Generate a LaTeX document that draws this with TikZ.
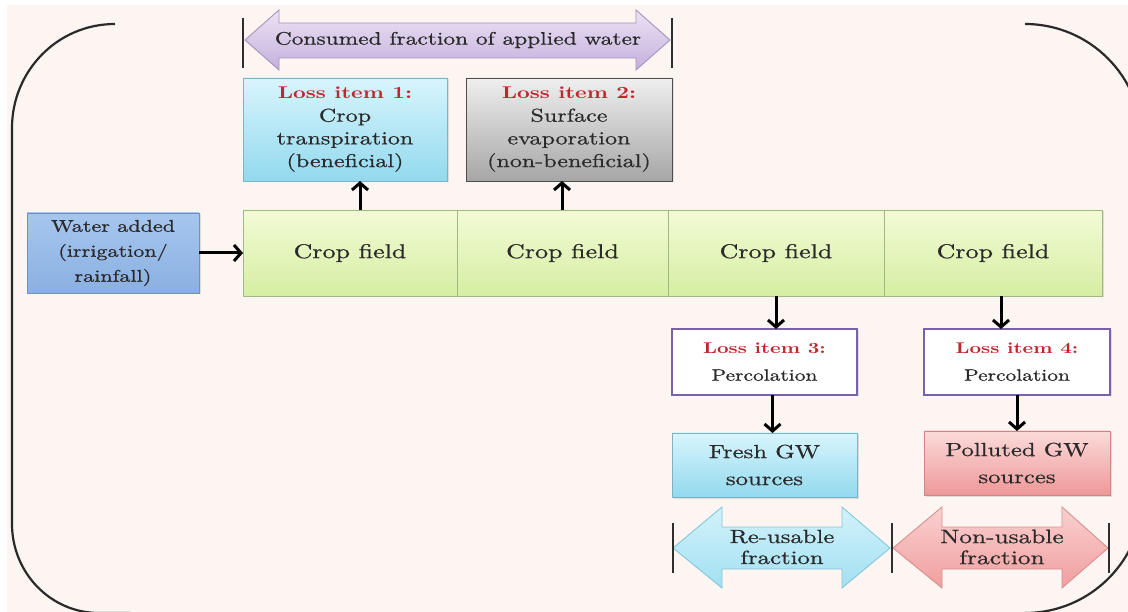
\documentclass[tikz,border=0pt]{standalone}
\usepackage{fontspec}
\setmainfont{lmroman10-regular.otf}[BoldFont=lmroman10-bold.otf, FakeStretch=1.3, UprightFeatures={FakeBold=0.7}]
\usetikzlibrary{arrows.meta,shadows}
\definecolor{bgc}{HTML}{FCF5F1}
\definecolor{txt}{HTML}{2A2A2A}
\definecolor{lossred}{HTML}{C0262D}
\definecolor{framec}{HTML}{2A2A2A}
\definecolor{cropT}{HTML}{F3FBD6}\definecolor{cropB}{HTML}{D5EEA2}\definecolor{cropD}{HTML}{A2B884}
\definecolor{cyanT}{HTML}{D8F5FD}\definecolor{cyanB}{HTML}{92D9EE}\definecolor{cyanD}{HTML}{7FB3C4}
\definecolor{grayT}{HTML}{EFEFEF}\definecolor{grayB}{HTML}{A6A6A6}\definecolor{grayD}{HTML}{4E4E4E}
\definecolor{pinkT}{HTML}{FCDADA}\definecolor{pinkB}{HTML}{EE9898}\definecolor{pinkD}{HTML}{D08585}
\definecolor{purpD}{HTML}{7A62A8}
\definecolor{blueT}{HTML}{A6C6EE}\definecolor{blueB}{HTML}{8AB0E2}\definecolor{blueD}{HTML}{6F90C2}
\definecolor{lavT}{HTML}{ECE3F5}\definecolor{lavB}{HTML}{C4B0DC}\definecolor{lavD}{HTML}{A493BF}
\definecolor{acyT}{HTML}{D2F2FB}\definecolor{acyB}{HTML}{A2E0F1}\definecolor{acyD}{HTML}{86C6D9}
\definecolor{apkT}{HTML}{FAD0D0}\definecolor{apkB}{HTML}{F09E9E}\definecolor{apkD}{HTML}{D98F8F}
\definecolor{barc}{HTML}{2E2E2E}
\newcommand\setfs[2]{\fontsize{#1}{#2}\selectfont}
\tikzset{
  box/.style={draw, line width=0.8pt, align=center, inner sep=2pt, outer sep=0pt,
    anchor=north west, text=txt,
    drop shadow={shadow xshift=1.5pt, shadow yshift=-1.5pt, opacity=0.22}},
  cropbox/.style={box, top color=cropT, bottom color=cropB, draw=cropD,
    minimum height=86pt, font=\setfs{20}{24}},
  cyanbox/.style={box, top color=cyanT, bottom color=cyanB, draw=cyanD},
  graybox/.style={box, top color=grayT, bottom color=grayB, draw=grayD},
  pinkbox/.style={box, top color=pinkT, bottom color=pinkB, draw=pinkD},
  whitebox/.style={box, fill=white, draw=purpD, line width=1.1pt},
  arr/.style={draw=black, line width=3pt, -{Straight Barb[length=7pt,width=16pt]}},
  bar/.style={draw=barc, line width=1.4pt},
  frame/.style={draw=framec, line width=2.2pt},
  bigarrow/.style={line width=0.9pt},
}
\begin{document}
\begin{tikzpicture}[x=1pt,y=-1pt]
\useasboundingbox (0,0) rectangle (1128,612);
\fill[white] (0,0) rectangle (1128,612);
\fill[bgc] (7,5) rectangle (1128,612);
\begin{scope}
\clip (0,0) rectangle (1128,612);
\draw[frame] (115,24) .. controls (57.4,24) and (12,71) .. (12,128) -- (12,524)
   .. controls (12,572.6) and (50.4,613) .. (99,613) -- (130,613);
\draw[frame] (1025,24) .. controls (1089.6,24) and (1142,76.4) .. (1142,141);
\draw[frame] (1143,495) .. controls (1143,560.2) and (1090.2,613) .. (1025,613);
\end{scope}

% consumed fraction arrow
\shadedraw[bigarrow, top color=lavT, bottom color=lavB, draw=lavD]
  (245,40) -- (279,10) -- (279,23) -- (636,23) -- (636,10) -- (670,40)
  -- (636,70) -- (636,58) -- (279,58) -- (279,70) -- cycle;
\node[text=txt, font=\setfs{18}{22}] (consumed) at (458,40) {Consumed fraction of applied water};
\draw[bar] (243,18) -- (243,68);
\draw[bar] (672,18) -- (672,68);

% loss boxes 1 and 2
\node[cyanbox, minimum width=204pt, minimum height=103pt, font=\setfs{18.5}{22.7}] (loss1) at (243,78)
  {{\setfs{17}{22.7}\bfseries\color{lossred}Loss item 1:}\\Crop\\transpiration\\(beneficial)};
\node[graybox, minimum width=206pt, minimum height=103pt, font=\setfs{18.5}{22.7}] (loss2) at (466,78)
  {{\setfs{17}{22.7}\bfseries\color{lossred}Loss item 2:}\\Surface\\evaporation\\(non-beneficial)};

% water added
\node[box, top color=blueT, bottom color=blueB, draw=blueD,
  minimum width=172pt, minimum height=80pt, font=\setfs{17}{25}] (water) at (27,213)
  {Water added\\(irrigation/\\rainfall)};

% crop fields
\node[cropbox, minimum width=214pt] (crop1) at (243,210) {Crop field};
\node[cropbox, minimum width=211pt] (crop2) at (457,210) {Crop field};
\node[cropbox, minimum width=216pt] (crop3) at (668,210) {Crop field};
\node[cropbox, minimum width=218pt] (crop4) at (884,210) {Crop field};

% loss 3 / 4
\node[whitebox, minimum width=185pt, minimum height=66pt, font=\setfs{16.5}{27}] (loss3) at (672,329)
  {{\setfs{15.5}{27}\bfseries\color{lossred}Loss item 3:}\\Percolation};
\node[whitebox, minimum width=186pt, minimum height=66pt, font=\setfs{16.5}{27}] (loss4) at (924,329)
  {{\setfs{15.5}{27}\bfseries\color{lossred}Loss item 4:}\\Percolation};

% GW sources
\node[cyanbox, minimum width=185pt, minimum height=64pt, font=\setfs{19}{27}] (fresh) at (672,433)
  {Fresh GW\\sources};
\node[pinkbox, minimum width=186pt, minimum height=64pt, font=\setfs{19}{27}] (polluted) at (924,431)
  {Polluted GW\\sources};

% usable fraction arrows
\shadedraw[bigarrow, top color=acyT, bottom color=acyB, draw=acyD]
  (673,548) -- (722,507) -- (722,527) -- (842,527) -- (842,507) -- (890,548)
  -- (842,588) -- (842,569) -- (722,569) -- (722,588) -- cycle;
\node[text=txt, align=center, font=\setfs{19}{21}] (reuse) at (782,547) {Re-usable\\fraction};
\shadedraw[bigarrow, top color=apkT, bottom color=apkB, draw=apkD]
  (893,548) -- (942,507) -- (942,527) -- (1062,527) -- (1062,507) -- (1108,548)
  -- (1062,588) -- (1062,569) -- (942,569) -- (942,588) -- cycle;
\node[text=txt, align=center, font=\setfs{19.5}{21}] (nonuse) at (1002,547) {Non-usable\\fraction};
\draw[bar] (673,523) -- (673,573);
\draw[bar] (892,523) -- (892,573);
\draw[bar] (1109,523) -- (1109,573);

% connectors
\draw[arr] (water.east) -- (crop1.west);
\draw[arr] ([xshift=10pt]crop1.north) -- ([xshift=10pt]crop1.north |- loss1.south);
\draw[arr] ([xshift=-0.5pt]crop2.north) -- ([xshift=-0.5pt]crop2.north |- loss2.south);
\draw[arr] (crop3.south) -- (crop3.south |- loss3.north);
\draw[arr] ([xshift=8pt]crop4.south) -- ([xshift=8pt]crop4.south |- loss4.north);
\draw[arr] ([xshift=8pt]loss3.south) -- ([xshift=8pt]loss3.south |- fresh.north);
\draw[arr] (loss4.south) -- (loss4.south |- polluted.north);
\end{tikzpicture}
\end{document}
